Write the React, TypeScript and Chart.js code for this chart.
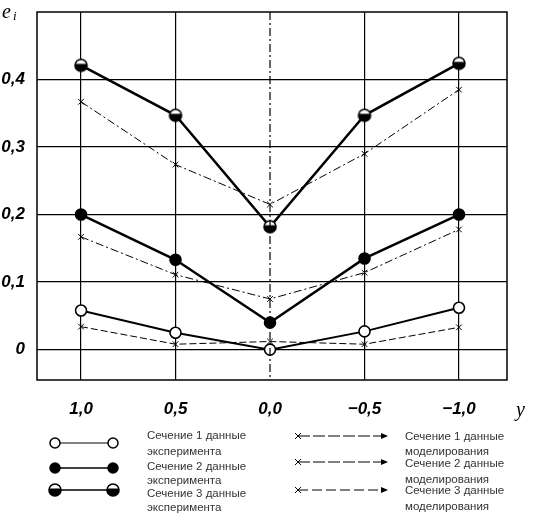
import React, { useEffect, useRef } from "react";
import Chart from "chart.js/auto";

const xValues = [1.0, 0.5, 0.0, -0.5, -1.0];
const xTicks = [1.0, 0.5, 0.0, -0.5, -1.0];
const yTicks = [0, 0.1, 0.2, 0.3, 0.4];
const exp1 = [0.058, 0.025, 0.0, 0.027, 0.062];
const mod1 = [0.034, 0.008, 0.012, 0.008, 0.033];
const exp2 = [0.2, 0.133, 0.04, 0.135, 0.2];
const mod2 = [0.167, 0.111, 0.075, 0.114, 0.178];
const exp3 = [0.421, 0.347, 0.182, 0.347, 0.424];
const mod3 = [0.367, 0.274, 0.215, 0.29, 0.385];
const expLabels = [
  ["Сечение 1 данные", "эксперимента"],
  ["Сечение 2 данные", "эксперимента"],
  ["Сечение 3 данные", "эксперимента"],
];
const modLabels = [
  ["Сечение 1 данные", "моделирования"],
  ["Сечение 2 данные", "моделирования"],
  ["Сечение 3 данные", "моделирования"],
];
const yAxisTitle = "e";
const yAxisSub = "i";
const xAxisTitle = "y";

function halfMarker(r: number): HTMLCanvasElement {
  const c = document.createElement("canvas");
  const s = r * 2 + 4;
  c.width = s;
  c.height = s;
  const g = c.getContext("2d")!;
  const cx = s / 2;
  g.beginPath();
  g.arc(cx, cx, r, 0, Math.PI * 2);
  g.fillStyle = "#fff";
  g.fill();
  g.beginPath();
  g.arc(cx, cx, r, -0.25, Math.PI + 0.25);
  g.fillStyle = "#000";
  g.fill();
  g.beginPath();
  g.arc(cx, cx, r, 0, Math.PI * 2);
  g.lineWidth = 1.6;
  g.strokeStyle = "#000";
  g.stroke();
  return c;
}

const pts = (ys: number[]) => xValues.map((x, i) => ({ x, y: ys[i] }));

export default function App() {
  const ref = useRef<HTMLCanvasElement | null>(null);
  useEffect(() => {
    const half = halfMarker(6);
    const tickFont = { family: "Liberation Sans", size: 17, style: "italic" as const, weight: "bold" as const };

    const drawMarker = (g: CanvasRenderingContext2D, kind: string, x: number, y: number) => {
      g.save();
      g.strokeStyle = "#000";
      g.lineWidth = 1.5;
      if (kind === "open" || kind === "filled") {
        g.beginPath();
        g.arc(x, y, 5, 0, Math.PI * 2);
        g.fillStyle = kind === "open" ? "#fff" : "#000";
        g.fill();
        g.stroke();
      } else if (kind === "half") {
        g.drawImage(half, x - half.width / 2, y - half.height / 2);
      } else if (kind === "cross") {
        g.lineWidth = 1;
        g.beginPath();
        g.moveTo(x - 3, y - 3);
        g.lineTo(x + 3, y + 3);
        g.moveTo(x - 3, y + 3);
        g.lineTo(x + 3, y - 3);
        g.stroke();
      } else if (kind === "arrow") {
        g.fillStyle = "#000";
        g.beginPath();
        g.moveTo(x, y);
        g.lineTo(x - 7, y - 3);
        g.lineTo(x - 7, y + 3);
        g.closePath();
        g.fill();
      }
      g.restore();
    };

    const decor = {
      id: "decor",
      afterDatasetsDraw(chart: any) {
        const g: CanvasRenderingContext2D = chart.ctx;
        const a = chart.chartArea;
        const xs = chart.scales.x;
        g.save();
        // center dash-dot line
        g.strokeStyle = "#000";
        g.lineWidth = 1.2;
        g.setLineDash([8, 3, 2, 3]);
        const cx = xs.getPixelForValue(0);
        g.beginPath();
        g.moveTo(cx, a.top);
        g.lineTo(cx, a.bottom);
        g.stroke();
        g.setLineDash([]);
        // frame
        g.lineWidth = 1.5;
        g.strokeRect(a.left, a.top, a.right - a.left, a.bottom - a.top);
        // axis titles
        g.fillStyle = "#000";
        g.font = "italic 20px 'Liberation Serif'";
        g.textBaseline = "alphabetic";
        g.fillText(yAxisTitle, 2, 18);
        g.font = "italic 13px 'Liberation Serif'";
        g.fillText(yAxisSub, 13, 20);
        g.font = "italic 20px 'Liberation Serif'";
        g.fillText(xAxisTitle, 516, 416);
        // legend
        g.font = "11.5px 'Liberation Sans'";
        const leftY = [443, 468, 490];
        const leftText = [[436, 452], [467, 481], [494, 508]];
        const kinds = ["open", "filled", "half"];
        leftY.forEach((y, i) => {
          g.strokeStyle = "#000";
          g.lineWidth = i === 0 ? 1 : 1.5;
          g.beginPath();
          g.moveTo(55, y);
          g.lineTo(113, y);
          g.stroke();
          drawMarker(g, kinds[i], 55, y);
          drawMarker(g, kinds[i], 113, y);
          g.fillStyle = "#333";
          g.textBaseline = "middle";
          g.fillText(expLabels[i][0], 147, leftText[i][0]);
          g.fillText(expLabels[i][1], 147, leftText[i][1]);
        });
        const rightY = [436, 462, 490];
        const rightText = [[437, 452], [464, 480], [491, 507]];
        const dashes = [[12, 3], [12, 3], [10, 4]];
        rightY.forEach((y, i) => {
          g.strokeStyle = "#000";
          g.lineWidth = 1;
          g.setLineDash(dashes[i]);
          g.beginPath();
          g.moveTo(298, y);
          g.lineTo(385, y);
          g.stroke();
          g.setLineDash([]);
          drawMarker(g, "cross", 298, y);
          drawMarker(g, "arrow", 388, y);
          g.fillStyle = "#333";
          g.textBaseline = "middle";
          g.fillText(modLabels[i][0], 405, rightText[i][0]);
          g.fillText(modLabels[i][1], 405, rightText[i][1]);
        });
        g.restore();
      },
    };

    const expDs = (label: string, data: number[], style: any, fill: string, width: number) => ({
      label,
      data: pts(data),
      borderColor: "#000",
      borderWidth: width,
      pointStyle: style,
      pointRadius: 5.5,
      pointBackgroundColor: fill,
      pointBorderColor: "#000",
      pointBorderWidth: 1.6,
      showLine: true,
      tension: 0,
      order: 1,
    });
    const modDs = (label: string, data: number[], dash: number[]) => ({
      label,
      data: pts(data),
      borderColor: "#000",
      borderWidth: 1,
      borderDash: dash,
      pointStyle: "crossRot",
      pointRadius: 4,
      pointBorderColor: "#000",
      pointBorderWidth: 1,
      showLine: true,
      tension: 0,
      order: 2,
    });

    const chart = new Chart(ref.current!, {
      type: "scatter",
      data: {
        datasets: [
          expDs("exp1", exp1, "circle", "#fff", 2),
          expDs("exp2", exp2, "circle", "#000", 2.5),
          expDs("exp3", exp3, half, "#fff", 2.5),
          modDs("mod1", mod1, [7, 3]),
          modDs("mod2", mod2, [8, 3, 2, 3]),
          modDs("mod3", mod3, [8, 3, 2, 3]),
        ],
      },
      options: {
        animation: false,
        responsive: false,
        devicePixelRatio: 1,
        layout: { padding: { top: 12, right: 33, left: 0, bottom: 0 } },
        plugins: { legend: { display: false }, tooltip: { enabled: false } },
        scales: {
          x: {
            type: "linear",
            reverse: true,
            min: -1.254,
            max: 1.233,
            afterBuildTicks: (s: any) => {
              s.ticks = xTicks.map((v) => ({ value: v }));
            },
            afterFit: (s: any) => {
              s.height = 134;
              s.paddingLeft = 0;
              s.paddingRight = 0;
            },
            grid: {
              drawTicks: false,
              color: (c: any) => (c.tick && c.tick.value === 0 ? "rgba(0,0,0,0)" : "#000"),
              lineWidth: 1.2,
            },
            border: { display: false },
            ticks: {
              padding: 19,
              color: "#000",
              font: tickFont,
              callback: (v: any) => Number(v).toFixed(1).replace(".", ",").replace("-", "−"),
            },
          },
          y: {
            type: "linear",
            min: -0.045,
            max: 0.5,
            afterBuildTicks: (s: any) => {
              s.ticks = yTicks.map((v) => ({ value: v }));
            },
            afterFit: (s: any) => {
              s.width = 37;
              s.paddingTop = 0;
              s.paddingBottom = 0;
            },
            grid: { drawTicks: false, color: "#000", lineWidth: 1.2 },
            border: { display: false },
            ticks: {
              padding: 12,
              color: "#000",
              font: tickFont,
              callback: (v: any) => (Number(v) === 0 ? "0" : Number(v).toFixed(1).replace(".", ",")),
            },
          },
        },
      },
      plugins: [decor],
    } as any);
    return () => chart.destroy();
  }, []);

  return (
    <div style={{ position: "absolute", left: 0, top: 0, width: 540, height: 514, background: "#fff" }}>
      <canvas ref={ref} width={540} height={514} />
    </div>
  );
}
